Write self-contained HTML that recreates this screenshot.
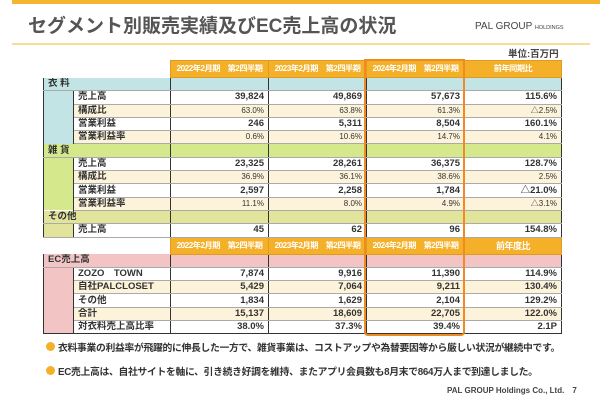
<!DOCTYPE html>
<html><head><meta charset="utf-8"><style>
body{margin:0;width:600px;height:400px;background:#fff;position:relative;overflow:hidden;font-family:"Liberation Sans","Noto Sans CJK JP",sans-serif;color:#333}
.abs{position:absolute}
table{position:absolute;left:43px;top:60px;border-collapse:collapse;table-layout:fixed;width:518px;font-weight:bold}
td{padding:0 4px;height:12.3px;line-height:12px;font-size:9.5px;text-align:right;border-left:1px solid #333;border-right:1px solid #333;border-bottom:1px solid #aaa;white-space:nowrap;overflow:hidden}
td.l{text-align:left}
tr.h td{height:16px;background:#f5b02a;color:#fff;font-size:8.2px;text-align:center;border:1px solid #e09a20;padding:0;letter-spacing:-0.5px}
tr.h td.n{background:#fff;border:none}
tr.c1 td{background:#c2e4e4}
tr.c2 td{background:#d5e98c}
tr.c3 td{background:#e2e49c}
tr.c4 td{background:#f3c4c4}
.cb{background:#c2e4e4}.cg{background:#d5e98c}.cy{background:#e2e49c}.cp{background:#f3c4c4}
tr.w td.d,tr.w td.l{background:#fff}
tr.k td.d,tr.k td.l{background:#fdf3da}
tr.k td.d{font-size:8px;font-weight:normal}
tr.k.x td.d{font-size:9.5px;font-weight:bold}
td.sp{border-bottom:none}
.b{font-size:9.8px;font-weight:bold;color:#333;letter-spacing:-0.3px;white-space:nowrap}
</style></head><body>
<div class="abs" style="left:12px;top:0;width:588px;height:4px;background:#f5b52e"></div>
<div class="abs" style="left:28px;top:11px;font-size:19px;font-weight:bold;color:#555">セグメント別販売実績及びEC売上高の状況</div>
<div class="abs" style="left:475px;top:21px;font-size:10px;color:#444">PAL GROUP <span style="font-size:5.5px">HOLDINGS</span></div>
<div class="abs" style="left:12px;top:43px;width:578px;height:2px;background:#f7dc98"></div>
<div class="abs" style="left:508px;top:46px;font-size:9.5px;font-weight:bold;color:#444">単位:百万円</div>
<table>
<colgroup><col style="width:30px"><col style="width:97px"><col style="width:98px"><col style="width:98px"><col style="width:98px"><col style="width:97px"></colgroup>
<tr class="h"><td class="n"></td><td class="n"></td><td>2022年2月期　第2四半期</td><td>2023年2月期　第2四半期</td><td>2024年2月期　第2四半期</td><td>前年同期比</td></tr>
<tr class="c1"><td class="l" colspan="2" style="border-right:1px solid #333">衣 料</td><td></td><td></td><td></td><td></td></tr>
<tr class="w"><td class="cb sp" rowspan="4"></td><td class="l">売上高</td><td class="d">39,824</td><td class="d">49,869</td><td class="d">57,673</td><td class="d">115.6%</td></tr>
<tr class="k"><td class="l">構成比</td><td class="d">63.0%</td><td class="d">63.8%</td><td class="d">61.3%</td><td class="d">△2.5%</td></tr>
<tr class="w"><td class="l">営業利益</td><td class="d">246</td><td class="d">5,311</td><td class="d">8,504</td><td class="d">160.1%</td></tr>
<tr class="k"><td class="l">営業利益率</td><td class="d">0.6%</td><td class="d">10.6%</td><td class="d">14.7%</td><td class="d">4.1%</td></tr>
<tr class="c2"><td class="l" colspan="2">雑 貨</td><td></td><td></td><td></td><td></td></tr>
<tr class="w"><td class="cg sp" rowspan="4"></td><td class="l">売上高</td><td class="d">23,325</td><td class="d">28,261</td><td class="d">36,375</td><td class="d">128.7%</td></tr>
<tr class="k"><td class="l">構成比</td><td class="d">36.9%</td><td class="d">36.1%</td><td class="d">38.6%</td><td class="d">2.5%</td></tr>
<tr class="w"><td class="l">営業利益</td><td class="d">2,597</td><td class="d">2,258</td><td class="d">1,784</td><td class="d">△21.0%</td></tr>
<tr class="k"><td class="l">営業利益率</td><td class="d">11.1%</td><td class="d">8.0%</td><td class="d">4.9%</td><td class="d">△3.1%</td></tr>
<tr class="c3"><td class="l" colspan="2">その他</td><td></td><td></td><td></td><td></td></tr>
<tr class="w"><td class="cy"></td><td class="l">売上高</td><td class="d">45</td><td class="d">62</td><td class="d">96</td><td class="d">154.8%</td></tr>
<tr class="h"><td class="n"></td><td class="n"></td><td>2022年2月期　第2四半期</td><td>2023年2月期　第2四半期</td><td>2024年2月期　第2四半期</td><td style="font-size:9px">前年度比</td></tr>
<tr class="c4"><td class="l" colspan="2">EC売上高</td><td></td><td></td><td></td><td></td></tr>
<tr class="w"><td class="cp" rowspan="5" style="border-bottom:1px solid #333"></td><td class="l">ZOZO　TOWN</td><td class="d">7,874</td><td class="d">9,916</td><td class="d">11,390</td><td class="d">114.9%</td></tr>
<tr class="k x"><td class="l">自社PALCLOSET</td><td class="d">5,429</td><td class="d">7,064</td><td class="d">9,211</td><td class="d">130.4%</td></tr>
<tr class="w"><td class="l">その他</td><td class="d">1,834</td><td class="d">1,629</td><td class="d">2,104</td><td class="d">129.2%</td></tr>
<tr class="k x"><td class="l">合計</td><td class="d">15,137</td><td class="d">18,609</td><td class="d">22,705</td><td class="d">122.0%</td></tr>
<tr class="w"><td class="l" style="border-bottom:1px solid #333">対衣料売上高比率</td><td class="d" style="border-bottom:1px solid #333">38.0%</td><td class="d" style="border-bottom:1px solid #333">37.3%</td><td class="d" style="border-bottom:1px solid #333">39.4%</td><td class="d" style="border-bottom:1px solid #333">2.1P</td></tr>
</table>
<div class="abs" style="left:364px;top:59px;width:97px;height:273px;border:2px solid #f08a24;border-radius:0 0 4px 4px"></div>
<div class="abs" style="left:46px;top:342px;width:9px;height:9px;border-radius:50%;background:#f5b02a"></div>
<div class="abs b" style="left:58px;top:340px">衣料事業の利益率が飛躍的に伸長した一方で、雑貨事業は、コストアップや為替要因等から厳しい状況が継続中です。</div>
<div class="abs" style="left:46px;top:366px;width:9px;height:9px;border-radius:50%;background:#f5b02a"></div>
<div class="abs b" style="left:58px;top:364px">EC売上高は、自社サイトを軸に、引き続き好調を維持、またアプリ会員数も8月末で864万人まで到達しました。</div>
<div class="abs" style="left:447px;top:385px;font-size:8px;font-weight:bold;color:#444">PAL GROUP Holdings Co., Ltd.　7</div>
</body></html>
